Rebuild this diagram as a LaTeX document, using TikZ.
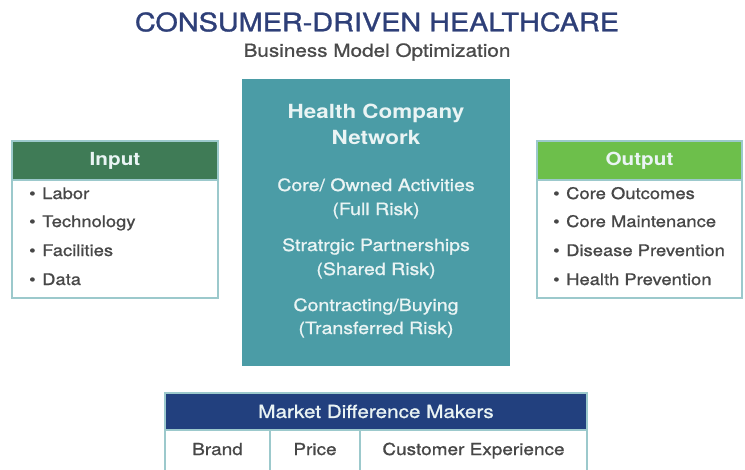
\documentclass[tikz,border=0pt]{standalone}
\usepackage{fontspec}
\setmainfont{TeX Gyre Heros}[FakeStretch=1.15]
\newfontfamily\medfont{TeX Gyre Heros}[FakeStretch=1.15,FakeBold=1]
\newfontfamily\titfont{TeX Gyre Heros}[FakeStretch=1.13,FakeBold=1.2]
\definecolor{titleblue}{HTML}{2E3F78}
\definecolor{subgray}{HTML}{4A4A4A}
\definecolor{teal}{HTML}{4B9CA6}
\definecolor{tealline}{HTML}{9CC9CC}
\definecolor{ingreen}{HTML}{3F7B56}
\definecolor{outgreen}{HTML}{6DBF4B}
\definecolor{navy}{HTML}{22407E}
\definecolor{itemgray}{HTML}{474747}
\definecolor{lighttext}{HTML}{EAF4F4}
\begin{document}
\begin{tikzpicture}[x=1pt,y=-1pt,
  box/.style={draw=tealline,line width=1.2pt,fill=white,inner sep=0pt},
  hdr/.style={draw=tealline,line width=1.2pt,inner sep=0pt,text=lighttext,font=\fontsize{18}{20}\selectfont\bfseries},
  item/.style={anchor=base west,inner sep=0pt,text=itemgray,font=\medfont\fontsize{16}{18}\selectfont},
  ctitle/.style={anchor=base,inner sep=0pt,text=lighttext,font=\fontsize{19.5}{21}\selectfont\bfseries},
  ctext/.style={anchor=base,inner sep=0pt,text=lighttext,font=\medfont\fontsize{17}{19}\selectfont},
  cell/.style={draw=tealline,line width=1.5pt,fill=white,inner sep=0pt},
  celltext/.style={anchor=base,inner sep=0pt,text=itemgray,font=\medfont\fontsize{16.5}{18}\selectfont}]
\useasboundingbox (0,0) rectangle (745,469);
\clip (0,0) rectangle (745,469);
\fill[white] (0,0) rectangle (745,469);
% titles
\node[inner sep=0pt,text=titleblue,font=\titfont\fontsize{25.5}{27}\selectfont] (title) at (377,22) {CONSUMER-DRIVEN HEALTHCARE};
\node[inner sep=0pt,text=subgray,font=\medfont\fontsize{18}{20}\selectfont] (sub) at (377,52) {Business Model Optimization};
% central
\node[fill=teal,draw=none,minimum width=268pt,minimum height=287pt,inner sep=0pt] (center) at (376,222.5) {};
\node[ctitle] (c1) at (376,118) {Health Company};
\node[ctitle] (c2) at (376,144) {Network};
\node[ctext] (c3) at (376,191) {Core/ Owned Activities};
\node[ctext] (c4) at (376,215) {(Full Risk)};
\node[ctext] (c5) at (376,251) {Stratrgic Partnerships};
\node[ctext] (c6) at (376,275) {(Shared Risk)};
\node[ctext] (c7) at (376,311) {Contracting/Buying};
\node[ctext] (c8) at (376,334) {(Transferred Risk)};
% input
\node[box,minimum width=206pt,minimum height=157pt] (inbox) at (115,219.5) {};
\node[hdr,fill=ingreen,minimum width=206pt,minimum height=39pt] (inhdr) at (115,160.5) {Input};
\node[item] (i1) at (29,199) {\makebox[13pt][l]{•}Labor};
\node[item] (i2) at (29,227) {\makebox[13pt][l]{•}Technology};
\node[item] (i3) at (29,256) {\makebox[13pt][l]{•}Facilities};
\node[item] (i4) at (29,285) {\makebox[13pt][l]{•}Data};
% output
\node[box,minimum width=205pt,minimum height=157pt] (outbox) at (639.5,219.5) {};
\node[hdr,fill=outgreen,minimum width=205pt,minimum height=39pt] (outhdr) at (639.5,160.5) {Output};
\node[item] (o1) at (553,199) {\makebox[13pt][l]{•}Core Outcomes};
\node[item] (o2) at (553,227) {\makebox[13pt][l]{•}Core Maintenance};
\node[item] (o3) at (553,256) {\makebox[13pt][l]{•}Disease Prevention};
\node[item] (o4) at (553,285) {\makebox[13pt][l]{•}Health Prevention};
% market
\node[cell,minimum width=105pt,minimum height=50pt] (brand) at (217.5,455) {};
\node[cell,minimum width=90pt,minimum height=50pt] (price) at (315,455) {};
\node[cell,minimum width=227pt,minimum height=50pt] (cx) at (473.5,455) {};
\node[celltext] (tbrand) at (217.5,455) {Brand};
\node[celltext] (tprice) at (315,455) {Price};
\node[celltext] (tcx) at (473.5,455) {Customer Experience};
\node[fill=navy,draw=tealline,line width=1.2pt,inner sep=0pt,minimum width=422pt,minimum height=37pt,text=lighttext,font=\medfont\fontsize{18}{20}\selectfont] (mkt) at (376,411.5) {Market Difference Makers};
\end{tikzpicture}
\end{document}
